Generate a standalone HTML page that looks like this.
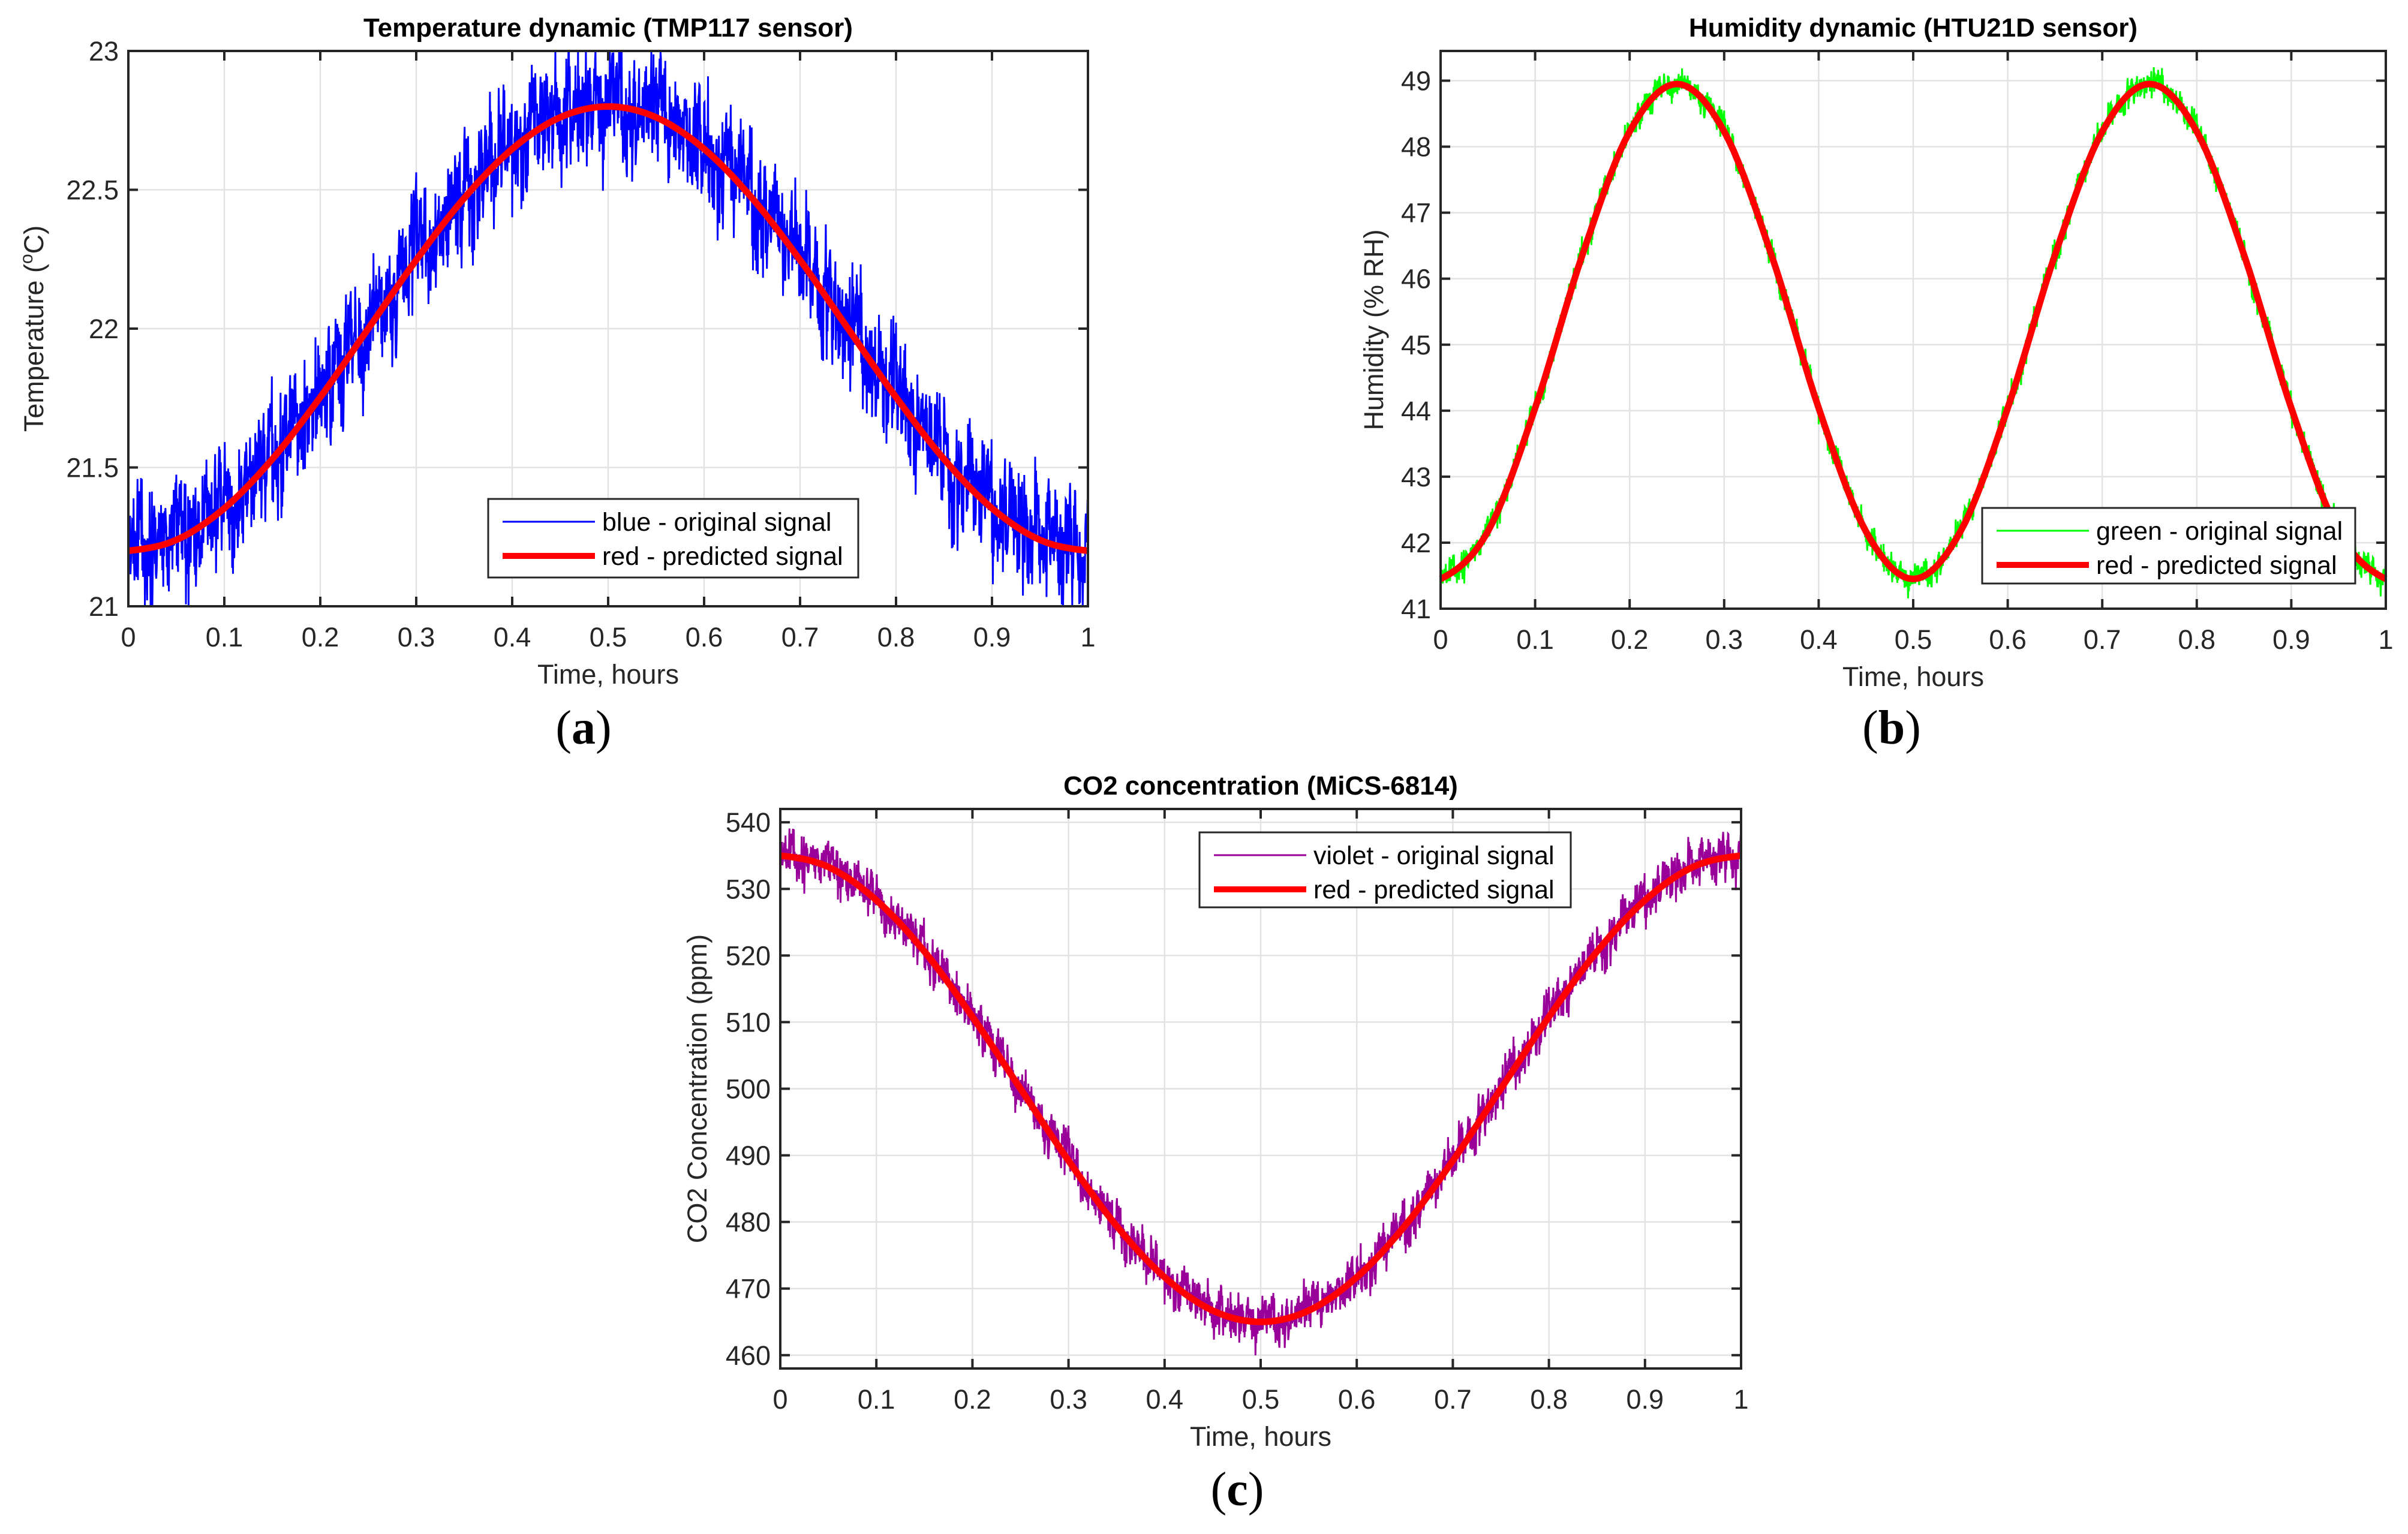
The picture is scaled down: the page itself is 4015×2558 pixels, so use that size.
<!DOCTYPE html>
<html><head><meta charset="utf-8"><style>
html,body{margin:0;padding:0;background:#fff;}
svg{display:block;font-family:"Liberation Sans",Arial,sans-serif;}
</style></head><body>
<svg id="fig" width="4015" height="2558" viewBox="0 0 4015 2558" xmlns="http://www.w3.org/2000/svg">
<rect width="4015" height="2558" fill="#fff"/>
</svg>
<script>
// ---- data ----
const timeSamples = [0,0.05,0.1,0.15,0.2,0.25,0.3,0.35,0.4,0.45,0.5,0.55,0.6,0.65,0.7,0.75,0.8,0.85,0.9,0.95,1];
const tempPredicted = [21.2,21.239,21.353,21.53,21.753,22.0,22.247,22.47,22.647,22.761,22.8,22.761,22.647,22.47,22.247,22.0,21.753,21.53,21.353,21.239,21.2];
const humPredicted = [41.45,42.17,44.04,46.36,48.23,48.95,48.23,46.36,44.04,42.17,41.45,42.17,44.04,46.36,48.23,48.95,48.23,46.36,44.04,42.17,41.45];
const co2Predicted = [535,533.3,528.3,520.6,510.8,500,489.2,479.4,471.7,466.7,465,466.7,471.7,479.4,489.2,500,510.8,520.6,528.3,533.3,535];
const noisePattern = [0.31,-0.72,0.15,0.88,-0.44,-0.09,0.63,-0.95,0.27,0.52,-0.61,0.04,-0.33,0.79,-0.18,0.41,-0.86,0.66,-0.25,0.12,0.94,-0.53,0.22,-0.07,-0.78,0.58,0.36,-0.41,0.83,-0.14,-0.67,0.47,0.09,-0.29,0.71,-0.92,0.19,0.55,-0.38,0.02,0.61,-0.57,-0.21,0.86,-0.49,0.33,-0.02,0.74,-0.83,0.26];
const tempNoiseAmp = 0.3;
const humNoiseAmp = 0.3;
const co2NoiseAmp = 5;
const tempTicksY = ["21","21.5","22","22.5","23"];
const humTicksY = ["41","42","43","44","45","46","47","48","49"];
const co2TicksY = ["460","470","480","490","500","510","520","530","540"];
const xTicks = ["0","0.1","0.2","0.3","0.4","0.5","0.6","0.7","0.8","0.9","1"];

const NS = "http://www.w3.org/2000/svg";
const svg = document.getElementById('fig');
function mk(tag, attrs, parent, text){
  const e = document.createElementNS(NS, tag);
  for (const k in attrs) e.setAttribute(k, attrs[k]);
  if (text !== undefined) e.textContent = text;
  (parent||svg).appendChild(e);
  return e;
}
function interp(xs, ys, t){
  let i = Math.min(xs.length-2, Math.max(0, Math.floor((t-xs[0])/(xs[1]-xs[0]))));
  const u = (t - xs[i])/(xs[i+1]-xs[i]);
  const p0 = ys[Math.max(0,i-1)], p1 = ys[i], p2 = ys[i+1], p3 = ys[Math.min(ys.length-1,i+2)];
  return 0.5*((2*p1)+(-p0+p2)*u+(2*p0-5*p1+4*p2-p3)*u*u+(-p0+3*p1-3*p2+p3)*u*u*u);
}

function panel(cfg){
  const g = mk('g', {});
  
  
  const L=cfg.L,R=cfg.R,T=cfg.T,B=cfg.B;
  const xs = v => L + (v-0)/(1-0)*(R-L);
  const ys = v => B - (v-cfg.ymin)/(cfg.ymax-cfg.ymin)*(B-T);
  const grid = mk('g', {stroke:'#e2e2e2','stroke-width':2.5}, g);
  
  
  xTicks.forEach(t=>{ const x=xs(parseFloat(t)); mk('line',{x1:x,x2:x,y1:T,y2:B},grid); });
  cfg.yTicks.forEach(t=>{ const y=ys(parseFloat(t)); mk('line',{x1:L,x2:R,y1:y,y2:y},grid); });
  const N = 2200;
  const M = noisePattern.length;
  let d = '';
  for (let i=0;i<=N;i++){
    const t = i/N;
    const n = noisePattern[(i*7)%M]*0.55 + noisePattern[(i*3 + Math.floor(i/M))%M]*0.35 + noisePattern[(Math.floor(i/11)*17)%M]*0.25;
    let v = interp(timeSamples, cfg.pred, t) + n*cfg.amp;
    v = Math.max(cfg.ymin, Math.min(cfg.ymax, v));
    d += (i?'L':'M') + xs(t).toFixed(1) + ' ' + ys(v).toFixed(1);
  }
  const orig = mk('path', {d:d, fill:'none', stroke:cfg.color, 'stroke-width':3}, g);
  
  
  let d2='';
  for (let i=0;i<=200;i++){ const t=i/200; d2 += (i?'L':'M') + xs(t).toFixed(1)+' '+ys(interp(timeSamples,cfg.pred,t)).toFixed(1); }
  const pred = mk('path', {d:d2, fill:'none', stroke:'#ff0000','stroke-width':11,'stroke-linejoin':'round'}, g);
  
  
  const box = mk('rect', {x:L,y:T,width:R-L,height:B-T,fill:'none',stroke:'#262626','stroke-width':4}, g);
  
  
  const tk = mk('g', {stroke:'#262626','stroke-width':4}, g);
  xTicks.forEach(t=>{ const x=xs(parseFloat(t)); mk('line',{x1:x,x2:x,y1:B,y2:B-16},tk); mk('line',{x1:x,x2:x,y1:T,y2:T+16},tk);
    const lb = mk('text',{x:x,y:cfg.xTickY,'text-anchor':'middle','font-size':45,fill:'#262626',stroke:'none'},g,t);
    
     });
  cfg.yTicks.forEach(t=>{ const y=ys(parseFloat(t)); mk('line',{x1:L,x2:L+16,y1:y,y2:y},tk); mk('line',{x1:R,x2:R-16,y1:y,y2:y},tk);
    const lb = mk('text',{x:L-16,y:y+16,'text-anchor':'end','font-size':45,fill:'#262626'},g,t);
    
     });
  const title = mk('text',{x:(L+R)/2,y:T-24,'text-anchor':'middle','font-size':44,'font-weight':'bold',fill:'#000'},g,cfg.title);
  
  
  const xl = mk('text',{x:(L+R)/2,y:cfg.xLabelY,'text-anchor':'middle','font-size':45,fill:'#262626'},g,'Time, hours');
  
  
  const yl = mk('text',{x:0,y:0,'text-anchor':'middle','font-size':45,fill:'#262626',transform:`translate(${cfg.yLabelX},${(T+B)/2}) rotate(-90)`},g);
  
  
  cfg.yLabel(yl);
  const lg = mk('g',{},g);
  
  
  const [lx,ly,lw,lh] = cfg.leg;
  mk('rect',{x:lx,y:ly,width:lw,height:lh,fill:'#fff',stroke:'#262626','stroke-width':3},lg);
  const e1 = mk('g',{},lg);
  
  
  mk('line',{x1:lx+24,x2:lx+178,y1:ly+38,y2:ly+38,stroke:cfg.color,'stroke-width':3},e1);
  mk('text',{x:lx+190,y:ly+53,'font-size':43,fill:'#000'},e1,cfg.legText);
  const e2 = mk('g',{},lg);
  
  
  mk('line',{x1:lx+24,x2:lx+178,y1:ly+95,y2:ly+95,stroke:'#ff0000','stroke-width':10},e2);
  mk('text',{x:lx+190,y:ly+110,'font-size':43,fill:'#000'},e2,'red - predicted signal');
  const pl = mk('text',{x:cfg.pLabel[0],y:cfg.pLabel[1],'text-anchor':'middle','font-size':80,'font-family':'"Liberation Serif",serif',fill:'#000'},g);
  
  
  mk('tspan',{},pl,'(');
  mk('tspan',{'font-weight':'bold'},pl,cfg.pLabel[2]);
  mk('tspan',{},pl,')');
}

panel({name:'temperature-chart',L:214,R:1814,T:85,B:1011,ymin:21,ymax:23,yTicks:tempTicksY,pred:tempPredicted,amp:tempNoiseAmp,color:'#0000ff',
  title:'Temperature dynamic (TMP117 sensor)',xTickY:1078,xLabelY:1140,yLabelX:72,
  yLabel:e=>{mk('tspan',{},e,'Temperature ('); mk('tspan',{'font-size':30,dy:-18},e,'o'); mk('tspan',{dy:18},e,'C)');},
  leg:[814,832,617,131],legText:'blue - original signal',pLabel:[973,1240,'a']});
panel({name:'humidity-chart',L:2402,R:3978,T:85,B:1015,ymin:41,ymax:49.45,yTicks:humTicksY,pred:humPredicted,amp:humNoiseAmp,color:'#00ff00',
  title:'Humidity dynamic (HTU21D sensor)',xTickY:1082,xLabelY:1144,yLabelX:2306,
  yLabel:e=>{e.textContent='Humidity (% RH)';},
  leg:[3305,847,622,126],legText:'green - original signal',pLabel:[3154,1240,'b']});
panel({name:'co2-chart',L:1301,R:2903,T:1349,B:2282,ymin:458,ymax:542,yTicks:co2TicksY,pred:co2Predicted,amp:co2NoiseAmp,color:'#990099',
  title:'CO2 concentration (MiCS-6814)',xTickY:2349,xLabelY:2411,yLabelX:1178,
  yLabel:e=>{e.textContent='CO2 Concentration (ppm)';},
  leg:[2000,1388,619,125],legText:'violet - original signal',pLabel:[2063,2510,'c']});
</script>
</body></html>
